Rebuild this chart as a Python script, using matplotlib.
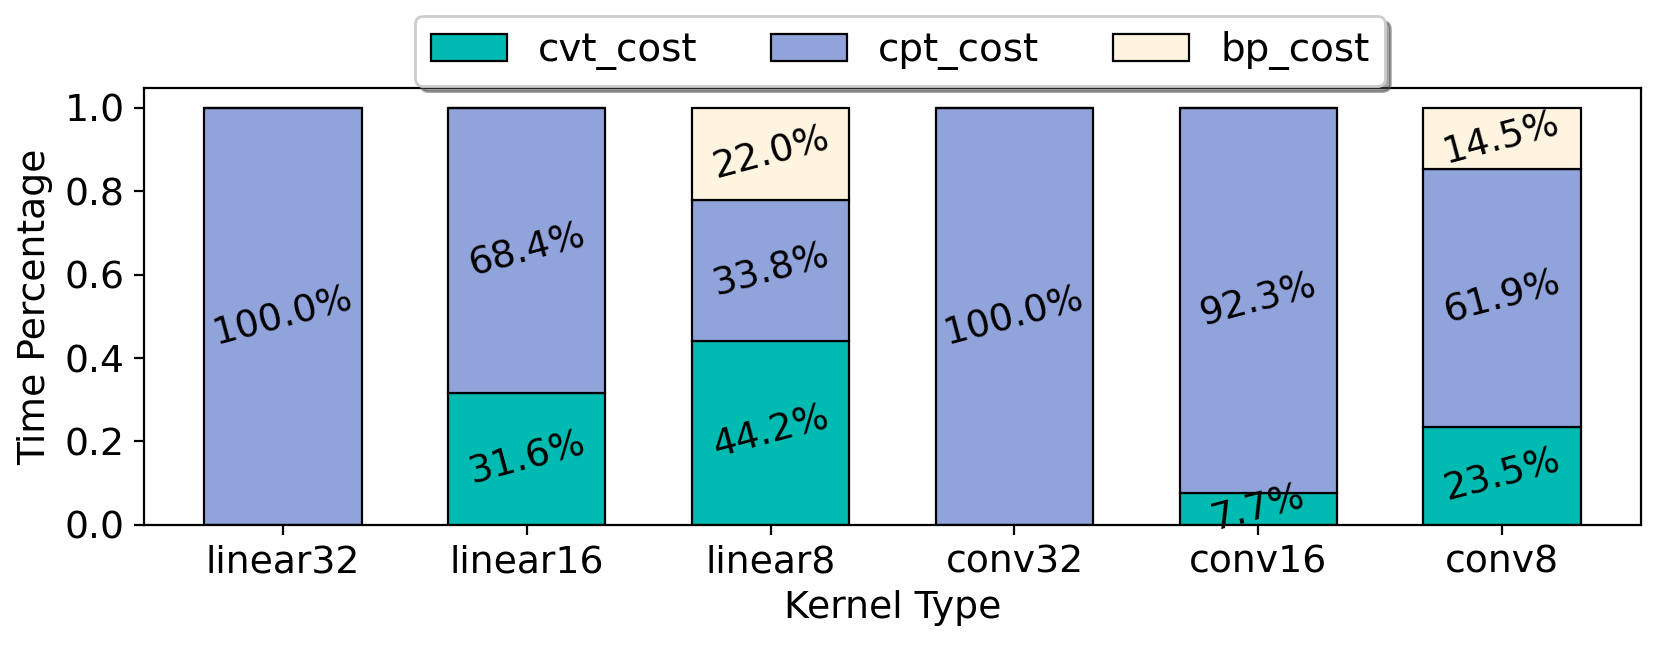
import matplotlib.pyplot as plt
import numpy as np

# tipos de kernel y porcentajes de tiempo
kernels = ['linear32', 'linear16', 'linear8', 'conv32', 'conv16', 'conv8']
cvt_cost = [0.0, 0.316, 0.442, 0.0, 0.077, 0.235]
cpt_cost = [1.0, 0.684, 0.338, 1.0, 0.923, 0.619]
bp_cost = [0.0, 0.0, 0.220, 0.0, 0.0, 0.145]

colores = ['#00BBB1', '#91A3DB', '#FEF4E0']

fig, ax = plt.subplots(figsize=(8.305, 3.235), dpi=200)
x = np.arange(len(kernels))
ancho = 0.645

base = np.zeros(len(kernels))
for nombre, vals, col in zip(['cvt_cost', 'cpt_cost', 'bp_cost'],
                             [cvt_cost, cpt_cost, bp_cost], colores):
    vals = np.array(vals)
    ax.bar(x, vals, ancho, bottom=base, color=col, edgecolor='black',
           linewidth=0.8, label=nombre)
    for i, v in enumerate(vals):
        if v > 0:
            ax.text(x[i], base[i] + v / 2, f'{v*100:.1f}%', ha='center',
                    va='center', rotation=15, fontsize=13.5)
    base += vals

ax.set_xticks(x)
ax.set_xticklabels(kernels, fontsize=13.6)
ax.set_yticks(np.arange(0, 1.01, 0.2))
ax.set_yticklabels([f'{t:.1f}' for t in np.arange(0, 1.01, 0.2)])
ax.tick_params(axis='y', labelsize=13.6)
ax.set_xlim(-0.57, 5.57)
ax.set_ylim(0, 1.048)
ax.set_ylabel('Time Percentage', fontsize=13.6)
ax.set_xlabel('Kernel Type', fontsize=13.6, labelpad=3.5)

ax.legend(loc='lower center', bbox_to_anchor=(0.505, 1.0), ncol=3,
          shadow=True, fontsize=14, handlelength=1.95, columnspacing=1.9,
          borderaxespad=0.05)

plt.subplots_adjust(left=0.0867, right=0.988, top=0.864, bottom=0.189)
plt.savefig('out.png')
